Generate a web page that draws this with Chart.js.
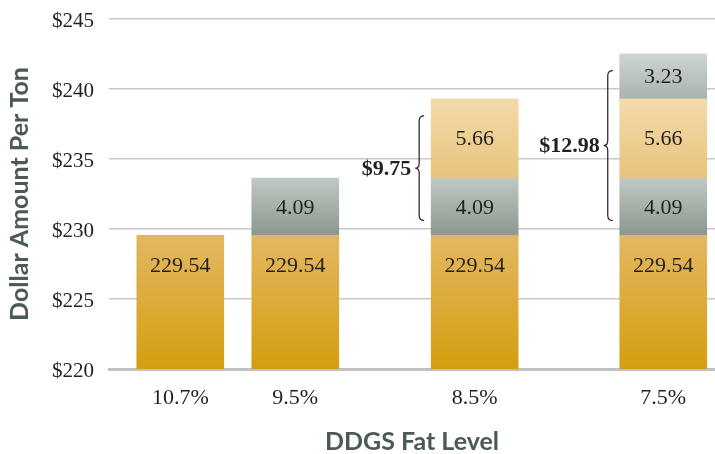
<!DOCTYPE html>
<html>
<head>
<meta charset="utf-8">
<script src="https://cdn.jsdelivr.net/npm/chart.js@4.4.1/dist/chart.umd.min.js"></script>
<style>
  html, body { margin: 0; padding: 0; background: #ffffff; }
  #wrap { width: 715px; height: 454px; position: relative; }
</style>
</head>
<body>
<div id="wrap"><canvas id="c"></canvas></div>
<script>
// ---- data ----
const categories = ['10.7%', '9.5%', '8.5%', '7.5%'];
const baseCost   = [229.54, 229.54, 229.54, 229.54];
const addOnA     = [null, 4.09, 4.09, 4.09];   // dark grey
const addOnB     = [null, null, 5.66, 5.66];   // light tan
const addOnC     = [null, null, null, 3.23];   // light grey
const yTicks     = [220, 225, 230, 235, 240, 245];
// braces: category index and the datasets they span
const braces = [
  { index: 2, from: 1, to: 2 },
  { index: 3, from: 1, to: 3 }
];

// ---- layout (slot positions on the x scale) ----
const slotPos = [1, 2, 3.56, 5.2];

const series = [baseCost, addOnA, addOnB, addOnC];
const gradStops = [
  ['#e3b762', '#d49e0f'],
  ['#c0c9c3', '#8b978e'],
  ['#f3daaa', '#e8c47b'],
  ['#cfd5d0', '#a8b3ac']
];

function cumBelow(ds, i) {
  let s = 0;
  for (let k = 0; k < ds; k++) s += (series[k][i] || 0);
  return s;
}

function makeBg(dsIndex) {
  return function (ctx) {
    const chart = ctx.chart;
    const { chartArea, scales } = chart;
    const fallback = gradStops[dsIndex][0];
    if (!chartArea || !scales || !scales.y || ctx.type !== 'data') return fallback;
    const i = ctx.dataIndex;
    const v = series[dsIndex][i];
    if (v == null) return fallback;
    const lo = dsIndex === 0 ? scales.y.min : cumBelow(dsIndex, i);
    const hi = cumBelow(dsIndex, i) + v;
    const yTop = scales.y.getPixelForValue(hi);
    const yBot = scales.y.getPixelForValue(lo);
    if (!isFinite(yTop) || !isFinite(yBot) || yTop === yBot) return fallback;
    const g = chart.ctx.createLinearGradient(0, yTop, 0, yBot);
    g.addColorStop(0, gradStops[dsIndex][0]);
    g.addColorStop(1, gradStops[dsIndex][1]);
    return g;
  };
}

const datasets = series.map((arr, d) => ({
  label: 'segment ' + d,
  data: arr.map((v, i) => ({ x: slotPos[i], y: v })),
  backgroundColor: makeBg(d),
  borderWidth: 0,
  barThickness: 87,
  stack: 's'
}));

const serif = "'Liberation Serif', 'DejaVu Serif', serif";
const sans = "Lato, 'Open Sans', sans-serif";
const textColor = '#231f20';

const labelPlugin = {
  id: 'segLabels',
  afterDatasetsDraw(chart) {
    const ctx = chart.ctx;
    ctx.save();
    ctx.fillStyle = textColor;
    ctx.font = '22px ' + serif;
    ctx.textAlign = 'center';
    ctx.textBaseline = 'middle';
    chart.data.datasets.forEach((ds, d) => {
      const meta = chart.getDatasetMeta(d);
      meta.data.forEach((el, i) => {
        const v = series[d][i];
        if (v == null) return;
        let y;
        if (d === 0) y = el.y + 30;
        else y = (el.y + el.base) / 2;
        ctx.fillText(v.toFixed(2), el.x, y + 1);
      });
    });

    // curly braces
    const ys = chart.scales.y;
    ctx.strokeStyle = textColor;
    ctx.lineWidth = 1.2;
    braces.forEach(b => {
      const i = b.index;
      const lo = cumBelow(b.from, i);
      let total = 0;
      for (let k = b.from; k <= b.to; k++) total += series[k][i] || 0;
      const hi = lo + total;
      const el = chart.getDatasetMeta(0).data[i];
      const left = el.x - el.width / 2;
      const x = left - 12;
      const yTop = ys.getPixelForValue(hi) + 17;
      const yBot = ys.getPixelForValue(lo) - 15;
      const yMid = (yTop + yBot) / 2;
      const r = 5;
      ctx.beginPath();
      ctx.moveTo(x + r, yTop);
      ctx.quadraticCurveTo(x, yTop, x, yTop + r);
      ctx.lineTo(x, yMid - r);
      ctx.quadraticCurveTo(x, yMid, x - 4, yMid);
      ctx.quadraticCurveTo(x, yMid, x, yMid + r);
      ctx.lineTo(x, yBot - r);
      ctx.quadraticCurveTo(x, yBot, x + r, yBot);
      ctx.stroke();

      ctx.font = 'bold 22px ' + serif;
      ctx.textAlign = 'right';
      ctx.fillText('$' + total.toFixed(2), x - 8, yMid + 1);
    });
    ctx.restore();
  }
};

new Chart(document.getElementById('c'), {
  type: 'bar',
  data: { datasets },
  options: {
    responsive: true,
    maintainAspectRatio: false,
    animation: false,
    layout: { padding: { top: 19, right: 0, left: 0, bottom: 0 } },
    plugins: { legend: { display: false }, tooltip: { enabled: false } },
    scales: {
      x: {
        type: 'linear',
        stacked: true,
        offset: false,
        min: 0.38,
        max: 5.65,
        z: 1,
        grid: { display: false, drawTicks: false, offset: false },
        border: { display: true, color: '#c1c1c4', width: 3 },
        afterBuildTicks(scale) {
          scale.ticks = slotPos.map(v => ({ value: v }));
        },
        afterFit(scale) {
          scale.height = 85;
          scale.paddingLeft = 0;
          scale.paddingRight = 0;
        },
        ticks: {
          autoSkip: false,
          maxRotation: 0,
          padding: 16,
          color: textColor,
          font: { family: serif, size: 22 },
          callback(value) {
            const k = slotPos.indexOf(value);
            return k >= 0 ? categories[k] : '';
          }
        },
        title: {
          display: true,
          text: 'DDGS Fat Level',
          color: '#4b5a52',
          font: { family: sans, size: 25, weight: 'bold', lineHeight: 1 },
          padding: { top: 0, bottom: 0 }
        }
      },
      y: {
        stacked: true,
        min: 220,
        max: 245,
        afterBuildTicks(scale) {
          scale.ticks = yTicks.map(v => ({ value: v }));
        },
        afterFit(scale) {
          scale.width = 109;
          scale.paddingTop = 0;
          scale.paddingBottom = 0;
        },
        grid: {
          drawTicks: false,
          color: '#c8c8ca',
          lineWidth: (c) => (c.tick && c.tick.value === 220 ? 0 : 1.5)
        },
        border: { display: false },
        ticks: {
          padding: 15,
          labelOffset: 2,
          color: textColor,
          font: { family: serif, size: 21 },
          callback: (v) => '$' + v
        },
        title: {
          display: true,
          text: 'Dollar Amount Per Ton',
          color: '#4b5a52',
          font: { family: sans, size: 25, weight: 'bold', lineHeight: 1 },
          padding: { top: 7, bottom: 0 }
        }
      }
    }
  },
  plugins: [labelPlugin]
});
</script>
</body>
</html>
